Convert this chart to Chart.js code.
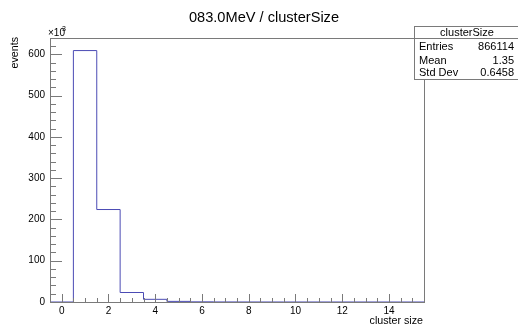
<!DOCTYPE html>
<html>
<head>
<meta charset="utf-8">
<script src="https://cdn.jsdelivr.net/npm/chart.js@4/dist/chart.umd.min.js"></script>
<style>
  body { margin: 0; background: #fff; }
  canvas { display: block; }
</style>
</head>
<body>
<canvas id="myChart" width="518" height="326"></canvas>
<script>
// histogram bins (cluster size) and their contents
const binCenters = [0, 1, 2, 3, 4, 5, 6, 7, 8, 9, 10, 11, 12, 13, 14, 15];
const counts = [0, 609000, 224000, 23000, 6500, 1500, 400, 150, 60, 25, 10, 5, 2, 1, 0, 0];
const xTickLabels = [0, 2, 4, 6, 8, 10, 12, 14];
const yTickLabels = [0, 100000, 200000, 300000, 400000, 500000, 600000];
const titleText = '083.0MeV / clusterSize';
const statsName = 'clusterSize';
const statsEntries = '866114';
const statsMean = '1.35';
const statsStdDev = '0.6458';

const FONT = "'Liberation Sans', Arial, Helvetica, sans-serif";
const frameColor = '#7a7a7a';

// step outline: each bin starts at its lower edge, last point closes at the upper edge
const stepPoints = binCenters.map((c, i) => ({ x: c - 0.5, y: counts[i] }));
stepPoints.push({ x: binCenters[binCenters.length - 1] + 0.5, y: 0 });

const rootStyle = {
    id: 'rootStyle',
    afterDraw(chart) {
        const ctx = chart.ctx;
        const area = chart.chartArea;
        const xs = chart.scales.x;
        const ys = chart.scales.y;
        ctx.save();

        // frame
        ctx.strokeStyle = frameColor;
        ctx.lineWidth = 1;
        ctx.strokeRect(Math.round(area.left) + 0.5, Math.round(area.top) + 0.5,
            Math.round(area.right - area.left), Math.round(area.bottom - area.top));

        // ticks inside the frame
        ctx.beginPath();
        for (let v = xs.min + 0.5; v <= xs.max; v += 0.5) {
            const px = Math.round(xs.getPixelForValue(v)) + 0.5;
            const len = xTickLabels.includes(v) ? 8 : 4;
            ctx.moveTo(px, area.bottom);
            ctx.lineTo(px, area.bottom - len);
        }
        for (let v = 0; v <= ys.max; v += 20000) {
            const py = Math.round(ys.getPixelForValue(v)) + 0.5;
            const len = yTickLabels.includes(v) ? 12 : 6;
            ctx.moveTo(area.left, py);
            ctx.lineTo(area.left + len, py);
        }
        ctx.stroke();

        ctx.fillStyle = '#000';
        // title
        ctx.font = '14.6px ' + FONT;
        ctx.textAlign = 'center';
        ctx.textBaseline = 'alphabetic';
        ctx.fillText(titleText, 264, 22);

        // x10^3
        ctx.textAlign = 'left';
        ctx.font = '10px ' + FONT;
        ctx.fillText('\u00d710', 48, 36);
        ctx.font = '7px ' + FONT;
        ctx.fillText('3', 62, 31);

        // axis titles
        ctx.font = '10.7px ' + FONT;
        ctx.textAlign = 'right';
        ctx.fillText('cluster size', 423, 324);
        ctx.save();
        ctx.translate(18, 37);
        ctx.rotate(-Math.PI / 2);
        ctx.fillText('events', 0, 0);
        ctx.restore();

        // stats box
        const bx = 414.5, by = 26.5, bw = 110, bh = 53;
        ctx.fillStyle = '#fff';
        ctx.fillRect(bx, by, bw, bh);
        ctx.strokeStyle = frameColor;
        ctx.strokeRect(bx, by, bw, bh);
        ctx.beginPath();
        ctx.moveTo(bx, 38.5);
        ctx.lineTo(bx + bw, 38.5);
        ctx.stroke();
        ctx.fillStyle = '#000';
        ctx.font = '11px ' + FONT;
        ctx.textAlign = 'center';
        ctx.fillText(statsName, 467, 36);
        ctx.textAlign = 'left';
        ctx.fillText('Entries', 419, 50);
        ctx.fillText('Mean', 419, 64);
        ctx.fillText('Std Dev', 419, 76);
        ctx.textAlign = 'right';
        ctx.fillText(statsEntries, 514, 50);
        ctx.fillText(statsMean, 514, 64);
        ctx.fillText(statsStdDev, 514, 76);
        ctx.restore();
    }
};

new Chart(document.getElementById('myChart'), {
    type: 'line',
    data: {
        datasets: [{
            label: statsName,
            data: stepPoints,
            stepped: 'before',
            borderColor: '#4b4bb4',
            borderWidth: 1,
            pointRadius: 0,
            fill: false
        }]
    },
    options: {
        responsive: false,
        animation: false,
        devicePixelRatio: 1,
        layout: { padding: { left: 0, right: 94, top: 38, bottom: 0 } },
        plugins: {
            legend: { display: false },
            tooltip: { enabled: false },
            title: { display: false }
        },
        scales: {
            x: {
                type: 'linear',
                min: -0.5,
                max: 15.5,
                grid: { display: false, drawTicks: false },
                border: { display: false },
                afterBuildTicks: scale => { scale.ticks = xTickLabels.map(v => ({ value: v })); },
                afterFit: scale => { scale.height = 24; },
                ticks: {
                    autoSkip: false,
                    maxRotation: 0,
                    padding: 3,
                    color: '#000',
                    font: { family: FONT, size: 10 }
                }
            },
            y: {
                type: 'linear',
                min: 0,
                max: Math.max(...counts) * 1.05,
                grid: { display: false, drawTicks: false },
                border: { display: false },
                afterBuildTicks: scale => { scale.ticks = yTickLabels.map(v => ({ value: v })); },
                afterFit: scale => { scale.width = 50; },
                ticks: {
                    padding: 5,
                    color: '#000',
                    font: { family: FONT, size: 10 },
                    callback: v => v / 1000
                }
            }
        }
    },
    plugins: [rootStyle]
});
</script>
</body>
</html>
